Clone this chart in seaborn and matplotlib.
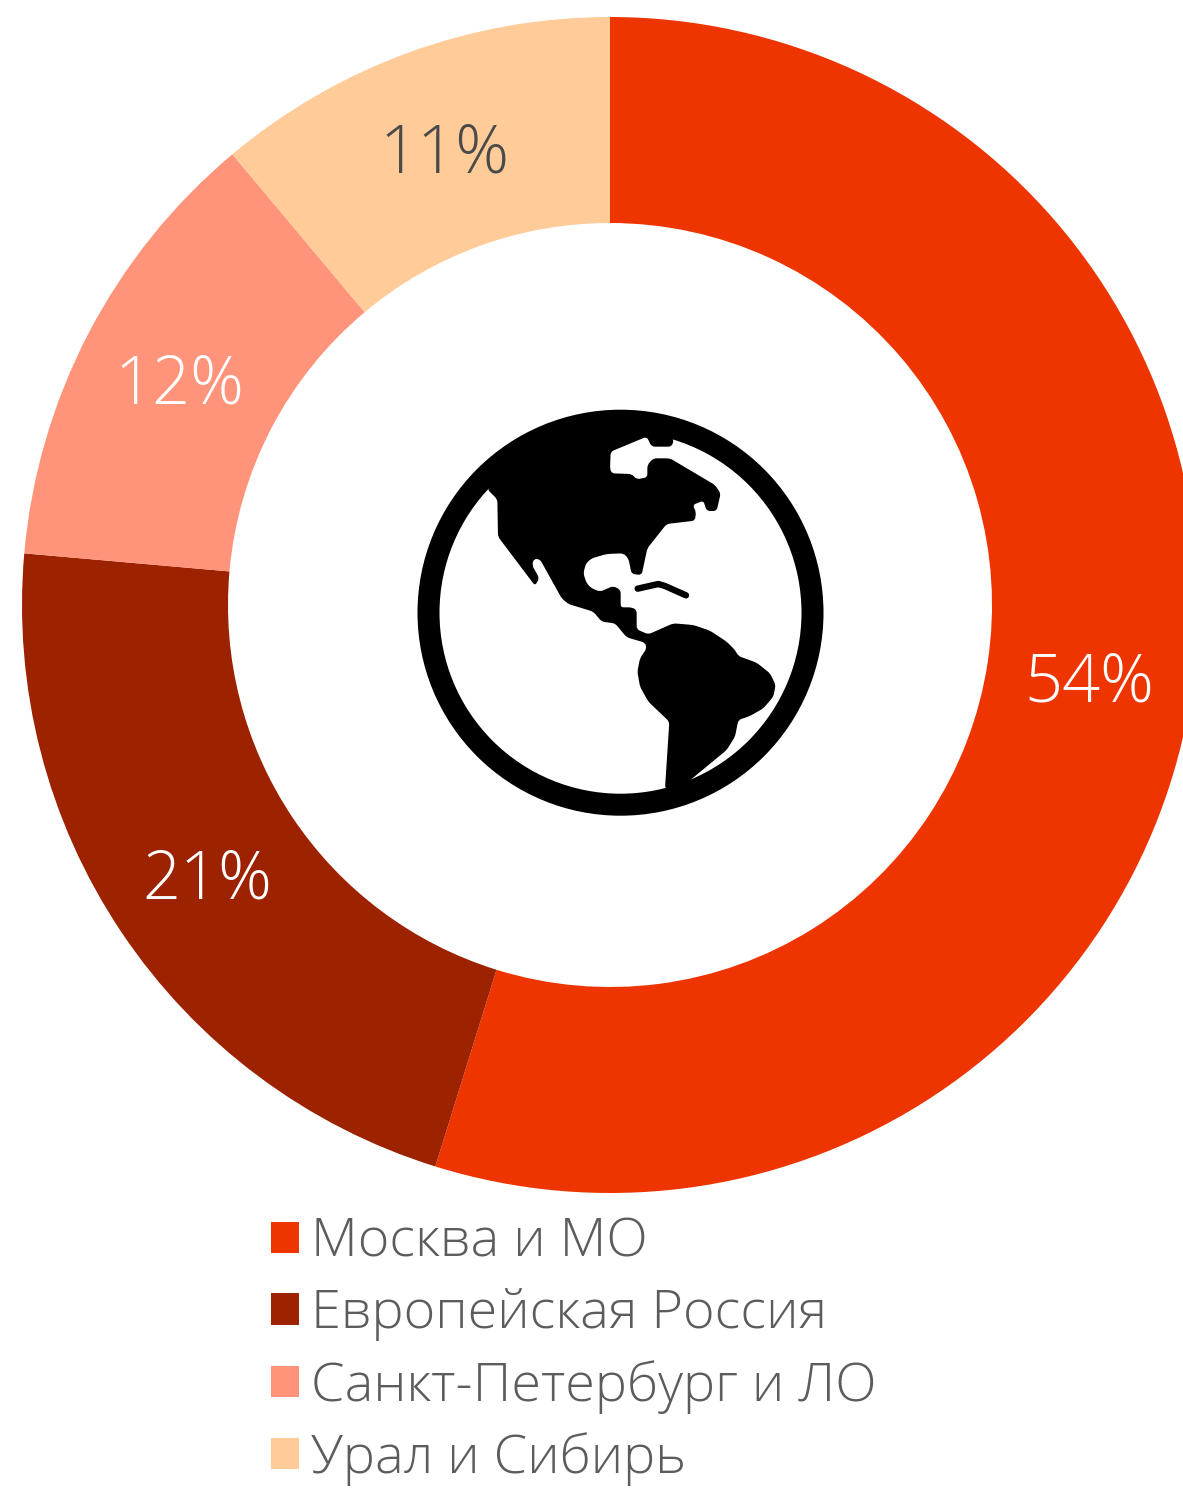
import matplotlib
matplotlib.use("Agg")
import matplotlib.pyplot as plt
import numpy as np
import seaborn as sns
from matplotlib.patches import Circle, PathPatch
from matplotlib.path import Path

regions = ["Москва и МО", "Европейская Россия", "Санкт-Петербург и ЛО", "Урал и Сибирь"]
shares = [54.8, 21.6, 12.5, 11.1]
share_labels = ["54%", "21%", "12%", "11%"]
palette = ["#EE3500", "#9C2200", "#FF947A", "#FFCB99"]
label_colors = ["white", "white", "white", "#4A4A4A"]

sns.set_theme(style="white")
FONT = ["Open Sans", "DejaVu Sans"]
plt.rcParams["font.family"] = FONT
plt.rcParams["font.weight"] = 300

W, H = 1183, 1493
fig = plt.figure(figsize=(W / 100, H / 100), dpi=100, facecolor="white")
R = 588
cx, cy = 610, 605
ax = fig.add_axes([(cx - R) / W, (H - cy - R) / H, 2 * R / W, 2 * R / H])
it = iter(share_labels)
wedges, _, autotexts = ax.pie(
    shares, colors=sns.color_palette(palette), startangle=90, counterclock=False,
    wedgeprops=dict(width=206 / R, linewidth=0), autopct=lambda p: next(it),
    pctdistance=0.825, textprops=dict(fontsize=48, fontweight=300))
for t, c in zip(autotexts, label_colors):
    t.set_color(c)
    t.set_y(t.get_position()[1] - 6 / R)
ax.set_xlim(-1, 1)
ax.set_ylim(-1, 1)
ax.set_aspect("equal")
ax.axis("off")

fig.legend(wedges, regions, loc="upper left", bbox_to_anchor=(271 / W, 1 - 1216 / H),
           frameon=False, fontsize=39, labelcolor="#5C5C5C", borderpad=0, borderaxespad=0,
           handlelength=0.52, handleheight=0.52, handletextpad=0.22, labelspacing=0.34)

# Globe icon, drawn in pixel coordinates on a transparent overlay
ov = fig.add_axes([0, 0, 1, 1], facecolor="none")
ov.set_xlim(0, W)
ov.set_ylim(H, 0)
ov.axis("off")

def zp(pts):
    return np.array(pts, float) / 3 + np.array([410, 400])

def rounded(pts, d=3.2):
    n = len(pts)
    verts, codes = [], []
    for i in range(n):
        a, b, c = pts[i - 1], pts[i], pts[(i + 1) % n]
        u = a - b
        v = c - b
        p = b + u / np.linalg.norm(u) * min(d, np.linalg.norm(u) * 0.5)
        q = b + v / np.linalg.norm(v) * min(d, np.linalg.norm(v) * 0.5)
        verts += [p, b, q]
        codes += [Path.MOVETO if i == 0 else Path.LINETO, Path.CURVE3, Path.CURVE3]
    verts.append(verts[0])
    codes.append(Path.CLOSEPOLY)
    return Path(verts, codes)

land = zp([
    (232, 268), (262, 298), (264, 410), (375, 557), (388, 535), (366, 495), (372, 476), (390, 478),
    (455, 595), (475, 612), (550, 635), (575, 665), (615, 670), (650, 712), (705, 728), (710, 745),
    (690, 775), (682, 815), (690, 860), (715, 905), (778, 965), (765, 1165), (800, 1190), (835, 1145),
    (950, 1050), (975, 1010), (985, 960), (1020, 948), (1060, 925), (1090, 890), (1097, 855),
    (1080, 820), (1040, 788), (985, 768), (975, 750), (950, 725), (900, 692), (850, 675), (790, 670),
    (715, 703), (680, 688), (680, 630), (665, 622), (632, 622), (632, 570), (610, 558), (570, 575),
    (545, 565), (530, 550), (520, 520), (528, 490), (545, 475), (590, 462), (640, 460), (655, 475),
    (665, 522), (695, 525), (712, 445), (770, 372), (855, 362), (858, 335), (848, 315), (880, 302),
    (890, 333), (920, 333), (932, 280), (915, 255), (780, 175), (730, 175), (712, 195), (712, 232),
    (680, 238), (665, 222), (605, 220), (600, 205), (602, 155), (710, 110), (725, 140), (785, 140),
    (792, 118), (700, 50), (450, 70), (300, 140),
])
ov.add_patch(Circle((620.5, 612.7), 192, fill=False, ec="black", lw=22 * 0.72))
ov.add_patch(PathPatch(rounded(land), fc="black", ec="none"))
isl = zp([(683, 566), (745, 552), (765, 558), (828, 586)])
ov.plot(isl[:, 0], isl[:, 1], color="black", lw=4.6, solid_capstyle="round", solid_joinstyle="round")

fig.savefig("out.png", dpi=100, facecolor="white")
